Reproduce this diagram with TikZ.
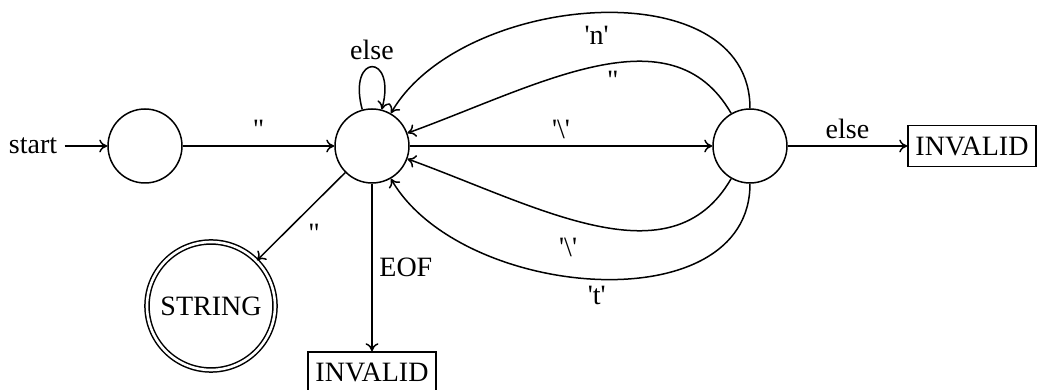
\documentclass[tikz,border=0pt]{standalone}
\usepackage{fontspec}
\usetikzlibrary{arrows.meta}
\setmainfont{Liberation Serif}[Ligatures=TeXOff]
\begin{document}
\begin{tikzpicture}[x=0.5pt,y=0.5pt,line width=0.75pt,
  every node/.style={font=\fontsize{14}{17}\selectfont},
  state/.style={draw,circle,minimum size=37pt,inner sep=0pt},
  accept/.style={draw,circle,double,double distance=1.3pt,minimum size=64pt,inner sep=0pt},
  box/.style={draw,rectangle,minimum width=64pt,minimum height=20.5pt,inner sep=0pt},
  edge/.style={-{To[length=4pt,width=6.5pt]}}]
\useasboundingbox (0,0) rectangle (1041,-390);
\node[state] (q0) at (145,-146) {};
\node[state] (q1) at (372,-146) {};
\node[state] (q2) at (750,-146) {};
\node[accept] (s) at (211,-306) {STRING};
\node[box] (invr) at (972,-146) {INVALID};
\node[box] (invb) at (372,-372.5) {INVALID};
\node (start) at (33,-146) {start};
\draw[edge] (start) -- (q0);
\draw[edge] (q0) -- node[above] {"} (q1);
\draw[edge] (q1.105) .. controls +(105:59) and +(75:59) .. node[above] {else} (q1.75);
\draw[edge] (q1) -- node[above] {'\textbackslash'} (q2);
\draw[edge] (q2) -- node[above] {else} (invr);
\draw[edge] (q2.90) .. controls +(90:140) and +(60:140) .. node[below,yshift=-3pt] {'n'} (q1.60);
\draw[edge] (q2.120) .. controls +(120:120) and +(20:140) .. node[pos=0.45,below] {"} (q1.20);
\draw[edge] (q2.-120) .. controls +(-120:120) and +(-20:140) .. node[pos=0.58,below,yshift=-6pt] {'\textbackslash'} (q1.-20);
\draw[edge] (q2.-90) .. controls +(-90:140) and +(-60:140) .. node[below] {'t'} (q1.-60);
\draw[edge] (q1) -- node[below right] {"} (s);
\draw[edge] (q1) -- node[right] {EOF} (invb);
\end{tikzpicture}
\end{document}
